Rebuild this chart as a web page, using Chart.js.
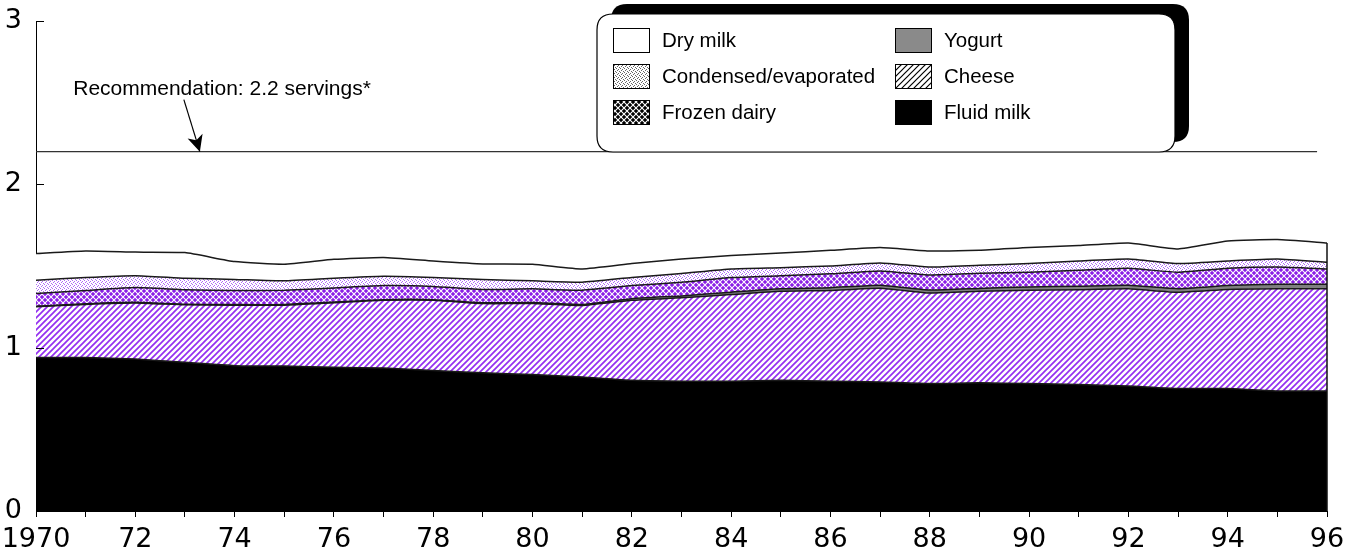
<!DOCTYPE html>
<html>
<head>
<meta charset="utf-8">
<script src="https://cdn.jsdelivr.net/npm/chart.js@4.4.1/dist/chart.umd.min.js"></script>
<style>
  html, body { margin: 0; padding: 0; background: #fff; }
  #wrap { width: 1356px; height: 557px; }
</style>
</head>
<body>
<div id="wrap"><canvas id="dairyChart" width="1356" height="557"></canvas></div>
<script>
// ── Data (servings per person per day) ────────────────────────────────────────
const years = [1970, 1971, 1972, 1973, 1974, 1975, 1976, 1977, 1978, 1979, 1980, 1981, 1982,
               1983, 1984, 1985, 1986, 1987, 1988, 1989, 1990, 1991, 1992, 1993, 1994, 1995, 1996];

const fluidMilk   = [0.94, 0.94, 0.93, 0.91, 0.89, 0.887, 0.88, 0.875, 0.86, 0.846, 0.835, 0.82, 0.80,
                     0.795, 0.795, 0.80, 0.795, 0.79, 0.78, 0.785, 0.78, 0.775, 0.765, 0.75, 0.75, 0.735, 0.735];
const cheese      = [0.31, 0.325, 0.344, 0.352, 0.37, 0.373, 0.395, 0.415, 0.43, 0.424, 0.435, 0.438, 0.49,
                     0.51, 0.53, 0.545, 0.555, 0.574, 0.555, 0.56, 0.572, 0.58, 0.595, 0.589, 0.606, 0.625, 0.625];
const yogurt      = [0.004, 0.004, 0.004, 0.004, 0.004, 0.004, 0.004, 0.004, 0.004, 0.005, 0.006, 0.007, 0.01,
                     0.012, 0.015, 0.016, 0.017, 0.018, 0.018, 0.018, 0.02, 0.021, 0.022, 0.022, 0.024, 0.028, 0.028];
const frozenDairy = [0.077, 0.081, 0.09, 0.089, 0.086, 0.088, 0.086, 0.086, 0.081, 0.081, 0.084, 0.087, 0.08,
                     0.084, 0.089, 0.079, 0.085, 0.088, 0.092, 0.092, 0.09, 0.098, 0.104, 0.101, 0.106, 0.106, 0.094];
const condensed   = [0.082, 0.08, 0.073, 0.07, 0.068, 0.057, 0.06, 0.057, 0.055, 0.061, 0.049, 0.049, 0.05,
                     0.053, 0.053, 0.05, 0.048, 0.049, 0.049, 0.05, 0.053, 0.057, 0.057, 0.053, 0.045, 0.049, 0.041];
const dryMilk     = [0.163, 0.162, 0.144, 0.157, 0.109, 0.102, 0.116, 0.115, 0.101, 0.096, 0.102, 0.081, 0.085,
                     0.089, 0.082, 0.09, 0.096, 0.094, 0.098, 0.091, 0.098, 0.094, 0.098, 0.089, 0.122, 0.119, 0.118];

const xTickLabels = ['1970', '72', '74', '76', '78', '80', '82', '84', '86', '88', '90', '92', '94', '96'];
const yTicks      = [0, 1, 2, 3];

const recValue   = 2.2;
const recEndYear = 1995.8;
const recText    = 'Recommendation: 2.2 servings*';
const recArrowAt = 1973.3;

const FONT      = "'Liberation Sans', Arial, Helvetica, sans-serif";
const TICK_FONT = "'DejaVu Sans', 'Liberation Sans', Arial, sans-serif";

// ── Fill patterns ─────────────────────────────────────────────────────────────
function makePattern(size, draw) {
  const c = document.createElement('canvas');
  c.width = size; c.height = size;
  const g = c.getContext('2d');
  draw(g, size);
  return g.createPattern(c, 'repeat');
}

function hatch(color, bg, lw) {
  return makePattern(6, (g, s) => {
    g.fillStyle = bg; g.fillRect(0, 0, s, s);
    g.strokeStyle = color; g.lineWidth = lw;
    g.beginPath();
    g.moveTo(-1, s + 1); g.lineTo(s + 1, -1);
    g.moveTo(-1, 1);     g.lineTo(1, -1);
    g.moveTo(s - 1, s + 1); g.lineTo(s + 1, s - 1);
    g.stroke();
  });
}

function crossHatch(color, bg) {
  return makePattern(6, (g, s) => {
    g.fillStyle = color; g.fillRect(0, 0, s, s);
    g.strokeStyle = bg; g.lineWidth = 1.1;
    g.beginPath();
    g.moveTo(0, 0); g.lineTo(s, s);
    g.moveTo(s, 0); g.lineTo(0, s);
    g.stroke();
  });
}

function dots(color, bg) {
  return makePattern(4, (g, s) => {
    g.fillStyle = bg; g.fillRect(0, 0, s, s);
    g.fillStyle = color;
    g.fillRect(0, 0, 1, 1);
    g.fillRect(2, 1, 1, 1);
    g.fillRect(1, 2, 1, 1);
    g.fillRect(3, 3, 1, 1);
  });
}

const PURPLE = '#9430f0';

const series = [
  { label: 'Fluid milk',           data: fluidMilk,   fill: '#000000',                      legend: '#000000' },
  { label: 'Cheese',               data: cheese,      fill: hatch(PURPLE, '#fff', 1.7),     legend: hatch('#000', '#fff', 1.2) },
  { label: 'Yogurt',               data: yogurt,      fill: '#808080',                      legend: '#8a8a8a' },
  { label: 'Frozen dairy',         data: frozenDairy, fill: crossHatch('#8a1ee6', '#fff'),  legend: crossHatch('#000', '#fff') },
  { label: 'Condensed/evaporated', data: condensed,   fill: dots('#b06af7', '#fff'),        legend: dots('#666', '#fff') },
  { label: 'Dry milk',             data: dryMilk,     fill: '#ffffff',                      legend: '#ffffff' },
];

// legend layout: [label, column, row]
const legendOrder = [
  ['Dry milk', 0, 0], ['Condensed/evaporated', 0, 1], ['Frozen dairy', 0, 2],
  ['Yogurt', 1, 0],   ['Cheese', 1, 1],               ['Fluid milk', 1, 2],
];

// ── Helpers ───────────────────────────────────────────────────────────────────
function roundRect(ctx, x, y, w, h, r) {
  ctx.beginPath();
  ctx.moveTo(x + r, y);
  ctx.lineTo(x + w - r, y);
  ctx.quadraticCurveTo(x + w, y, x + w, y + r);
  ctx.lineTo(x + w, y + h - r);
  ctx.quadraticCurveTo(x + w, y + h, x + w - r, y + h);
  ctx.lineTo(x + r, y + h);
  ctx.quadraticCurveTo(x, y + h, x, y + h - r);
  ctx.lineTo(x, y + r);
  ctx.quadraticCurveTo(x, y, x + r, y);
  ctx.closePath();
}

const overlayPlugin = {
  id: 'overlay',
  afterDatasetsDraw(chart) {
    const { ctx, chartArea, scales: { x, y } } = chart;
    ctx.save();
    // closing edge of the stacked areas
    const last = years.length - 1;
    const total = series.reduce((s, d) => s + d.data[last], 0);
    ctx.strokeStyle = '#111'; ctx.lineWidth = 1.5;
    ctx.beginPath();
    ctx.moveTo(x.getPixelForValue(years[last]), y.getPixelForValue(total));
    ctx.lineTo(x.getPixelForValue(years[last]), y.getPixelForValue(0));
    ctx.stroke();
    // inward y ticks
    ctx.strokeStyle = '#000'; ctx.lineWidth = 1;
    yTicks.forEach(v => {
      const py = Math.round(y.getPixelForValue(v)) + 0.5;
      ctx.beginPath();
      ctx.moveTo(chartArea.left, py);
      ctx.lineTo(chartArea.left + 8, py);
      ctx.stroke();
    });
    ctx.restore();
  },
  afterDraw(chart) {
    const { ctx, scales: { x, y } } = chart;
    ctx.save();

    // ── Recommendation annotation ──
    const tipX = x.getPixelForValue(recArrowAt);
    const tipY = y.getPixelForValue(recValue);
    ctx.fillStyle = '#000';
    ctx.font = `21px ${FONT}`;
    ctx.textBaseline = 'alphabetic';
    ctx.textAlign = 'left';
    ctx.fillText(recText, x.getPixelForValue(1970.75), tipY - 57);

    const tailX = tipX - 16, tailY = tipY - 52;
    const ang = Math.atan2(tipY - tailY, tipX - tailX);
    ctx.strokeStyle = '#000'; ctx.lineWidth = 1.2;
    ctx.beginPath(); ctx.moveTo(tailX, tailY); ctx.lineTo(tipX, tipY); ctx.stroke();
    const hl = 18, hw = 0.45;
    ctx.beginPath();
    ctx.moveTo(tipX, tipY);
    ctx.lineTo(tipX - hl * Math.cos(ang - hw), tipY - hl * Math.sin(ang - hw));
    ctx.lineTo(tipX - 12 * Math.cos(ang), tipY - 12 * Math.sin(ang));
    ctx.lineTo(tipX - hl * Math.cos(ang + hw), tipY - hl * Math.sin(ang + hw));
    ctx.closePath();
    ctx.fill();

    // ── Legend box with offset shadow ──
    const bx = 597, by = 14, bw = 578, bh = 138, r = 16;
    ctx.fillStyle = '#000';
    roundRect(ctx, bx + 14, by - 10, bw, bh, r);
    ctx.fill();
    ctx.fillStyle = '#fff';
    roundRect(ctx, bx, by, bw, bh, r);
    ctx.fill();
    ctx.strokeStyle = '#000'; ctx.lineWidth = 1.2;
    ctx.stroke();

    const colX = [613, 895], rowY = [40, 76, 112];
    ctx.font = `20.5px ${FONT}`;
    ctx.textBaseline = 'middle';
    legendOrder.forEach(([label, col, row]) => {
      const s = series.find(d => d.label === label);
      const sx = colX[col], sy = rowY[row] - 12;
      ctx.fillStyle = s.legend;
      ctx.fillRect(sx, sy, 36, 24);
      ctx.strokeStyle = '#000'; ctx.lineWidth = 1;
      ctx.strokeRect(sx + 0.5, sy + 0.5, 36, 24);
      ctx.fillStyle = '#000';
      ctx.fillText(label, sx + 49, rowY[row] + 1);
    });
    ctx.restore();
  }
};

// ── Chart ─────────────────────────────────────────────────────────────────────
const datasets = series.map((s, i) => ({
  label: s.label,
  data: years.map((yr, k) => ({ x: yr, y: s.data[k] })),
  backgroundColor: s.fill,
  borderColor: '#1a1a1a',
  borderWidth: 1.5,
  fill: i === 0 ? 'origin' : '-1',
  pointRadius: 0,
  tension: 0.15,
  stack: 'dairy',
}));

datasets.push({
  label: 'Recommendation',
  data: [{ x: years[0], y: recValue }, { x: recEndYear, y: recValue }],
  borderColor: '#333',
  borderWidth: 1.3,
  fill: false,
  pointRadius: 0,
  stack: 'rec',
});

new Chart(document.getElementById('dairyChart').getContext('2d'), {
  type: 'line',
  data: { datasets },
  options: {
    responsive: false,
    animation: false,
    devicePixelRatio: 1,
    layout: { padding: { top: 21, right: 29, bottom: 4, left: 6 } },
    plugins: {
      legend: { display: false },
      tooltip: { enabled: false },
      filler: { drawTime: 'beforeDatasetsDraw' },
    },
    scales: {
      x: {
        type: 'linear',
        min: 1970, max: 1996,
        grid: { display: true, drawOnChartArea: false, drawTicks: true, tickLength: 6, color: '#000' },
        border: { display: true, color: '#000', width: 1 },
        ticks: {
          stepSize: 1, autoSkip: false, maxRotation: 0, padding: 7,
          color: '#000', font: { family: TICK_FONT, size: 27 },
          callback: v => ((v - 1970) % 2 === 0 ? xTickLabels[(v - 1970) / 2] : ''),
        },
        afterFit: s => { s.height = 42; s.paddingLeft = 0; s.paddingRight = 0; },
      },
      y: {
        stacked: true,
        min: 0, max: 3,
        grid: { display: false, drawTicks: false },
        border: { display: true, color: '#000', width: 1 },
        ticks: {
          stepSize: 1, padding: 14,
          color: '#000', font: { family: TICK_FONT, size: 27 },
          callback: v => (yTicks.includes(v) ? String(v) : ''),
        },
        afterFit: s => { s.width = 30; s.paddingTop = 0; s.paddingBottom = 0; },
      },
    },
  },
  plugins: [overlayPlugin],
});
</script>
</body>
</html>
